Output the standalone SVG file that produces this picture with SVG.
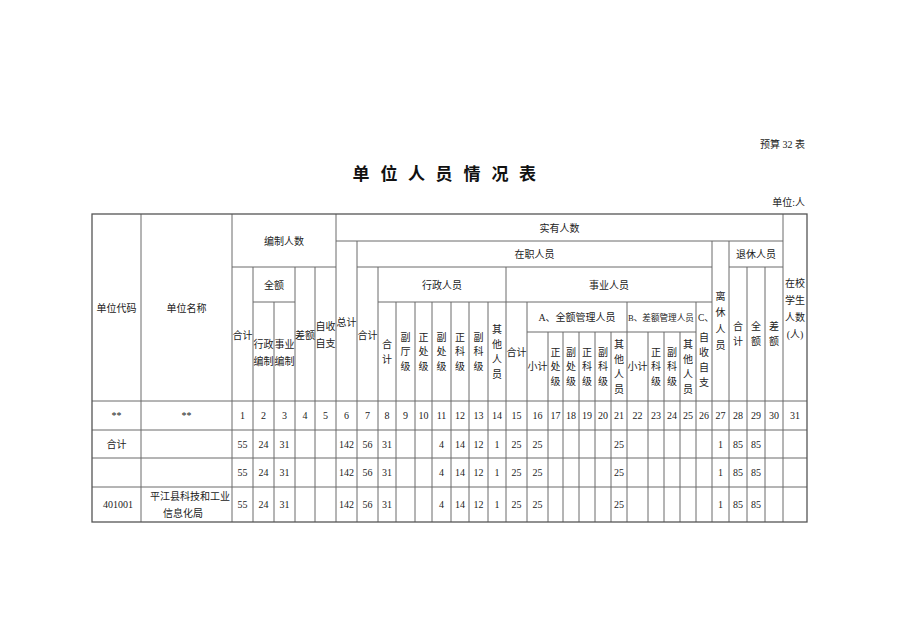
<svg xmlns="http://www.w3.org/2000/svg" width="898" height="635" viewBox="0 0 898 635">
<style>
text{font-family:"Liberation Serif","Noto Sans CJK SC",serif;font-size:10px;fill:#222;text-anchor:middle;dominant-baseline:central}
.r{text-anchor:end}
.s{text-anchor:start}
.title{font-family:"Noto Sans CJK SC",sans-serif;font-size:17px;font-weight:bold;fill:#111}
#grid line{stroke:#6a6a6a;stroke-width:1}
#border{fill:none;stroke:#555;stroke-width:1.3}
</style>
<rect width="898" height="635" fill="#fff"/>

<g id="caption">
<text class="r" x="805" y="144.5">预算 32 表</text>
<text class="title" x="361 375 389 403 416.5 430 444 458 472 486 500 514 527.5" y="172.5">单 位 人 员 情 况 表</text>
<text class="r" x="805" y="202.5">单位:人</text>
</g>

<g id="grid">
<line x1="336" y1="241" x2="783" y2="241"/>
<line x1="232" y1="267" x2="336" y2="267"/>
<line x1="357" y1="267" x2="712" y2="267"/>
<line x1="729" y1="267" x2="783" y2="267"/>
<line x1="253" y1="302" x2="295" y2="302"/>
<line x1="378" y1="302" x2="712" y2="302"/>
<line x1="527" y1="332" x2="696" y2="332"/>
<line x1="92" y1="401" x2="807" y2="401"/>
<line x1="92" y1="430" x2="807" y2="430"/>
<line x1="92" y1="458" x2="807" y2="458"/>
<line x1="92" y1="487" x2="807" y2="487"/>
<line x1="141" y1="214" x2="141" y2="522"/>
<line x1="232" y1="214" x2="232" y2="522"/>
<line x1="253" y1="267" x2="253" y2="522"/>
<line x1="274" y1="302" x2="274" y2="522"/>
<line x1="295" y1="267" x2="295" y2="522"/>
<line x1="315" y1="267" x2="315" y2="522"/>
<line x1="336" y1="214" x2="336" y2="522"/>
<line x1="357" y1="241" x2="357" y2="522"/>
<line x1="378" y1="267" x2="378" y2="522"/>
<line x1="396" y1="302" x2="396" y2="522"/>
<line x1="415" y1="302" x2="415" y2="522"/>
<line x1="432" y1="302" x2="432" y2="522"/>
<line x1="451" y1="302" x2="451" y2="522"/>
<line x1="469" y1="302" x2="469" y2="522"/>
<line x1="488" y1="302" x2="488" y2="522"/>
<line x1="506" y1="267" x2="506" y2="522"/>
<line x1="527" y1="302" x2="527" y2="522"/>
<line x1="548" y1="332" x2="548" y2="522"/>
<line x1="563" y1="332" x2="563" y2="522"/>
<line x1="579" y1="332" x2="579" y2="522"/>
<line x1="595" y1="332" x2="595" y2="522"/>
<line x1="611" y1="332" x2="611" y2="522"/>
<line x1="627" y1="302" x2="627" y2="522"/>
<line x1="648" y1="332" x2="648" y2="522"/>
<line x1="664" y1="332" x2="664" y2="522"/>
<line x1="680" y1="332" x2="680" y2="522"/>
<line x1="696" y1="302" x2="696" y2="522"/>
<line x1="712" y1="241" x2="712" y2="522"/>
<line x1="729" y1="241" x2="729" y2="522"/>
<line x1="747" y1="267" x2="747" y2="522"/>
<line x1="765" y1="267" x2="765" y2="522"/>
<line x1="783" y1="214" x2="783" y2="522"/>
<rect id="border" x="92" y="214" width="715" height="308"/>
</g>

<g id="header">
<text x="116.5" y="308">单位代码</text>
<text x="186.5" y="308">单位名称</text>
<text x="284" y="241">编制人数</text>
<text x="559.5" y="228">实有人数</text>
<text x="242.5" y="335">合计</text>
<text x="274" y="285">全额</text>
<text x="263.5" y="344">行政</text>
<text x="263.5" y="361">编制</text>
<text x="284.5" y="344">事业</text>
<text x="284.5" y="361">编制</text>
<text x="305" y="335">差额</text>
<text x="325.5" y="326.5">自收</text>
<text x="325.5" y="343.5">自支</text>
<text x="346.5" y="322">总计</text>
<text x="534.5" y="254">在职人员</text>
<text x="367.5" y="335">合计</text>
<text x="442" y="285">行政人员</text>
<text x="609" y="285">事业人员</text>
<text x="387 387" y="344 359">合计</text>
<text x="405.5 405.5 405.5" y="337 351.5 366">副厅级</text>
<text x="423.5 423.5 423.5" y="337 351.5 366">正处级</text>
<text x="441.5 441.5 441.5" y="337 351.5 366">副处级</text>
<text x="460 460 460" y="337 351.5 366">正科级</text>
<text x="478.5 478.5 478.5" y="337 351.5 366">副科级</text>
<text x="497 497 497 497" y="329.5 344.5 359.5 374.5">其他人员</text>
<text x="516.5" y="352">合计</text>
<text x="577" y="317.5">A、全额管理人员</text>
<text class="s" x="628" y="317.5" style="font-size:8.6px">B、差额管理人员</text>
<text class="s" x="698" y="317.5" style="font-size:9.5px">C、</text>
<text x="537.5" y="366.5">小计</text>
<text x="555.5 555.5 555.5" y="352 366.5 381">正处级</text>
<text x="571 571 571" y="352 366.5 381">副处级</text>
<text x="587 587 587" y="352 366.5 381">正科级</text>
<text x="603 603 603" y="352 366.5 381">副科级</text>
<text x="619 619 619 619" y="344 359 374 389">其他人员</text>
<text x="637.5" y="366.5">小计</text>
<text x="656 656 656" y="352 366.5 381">正科级</text>
<text x="672 672 672" y="352 366.5 381">副科级</text>
<text x="688 688 688 688" y="344 359 374 389">其他人员</text>
<text x="704 704 704 704" y="337 352 367 382">自收自支</text>
<text x="720.5 720.5 720.5 720.5" y="296 312.5 329 345.5">离休人员</text>
<text x="756" y="254">退休人员</text>
<text x="738 738" y="326.5 341.5">合计</text>
<text x="756 756" y="326.5 341.5">全额</text>
<text x="774 774" y="326.5 341.5">差额</text>
<text x="795" y="283">在校</text>
<text x="795" y="300">学生</text>
<text x="795" y="317">人数</text>
<text x="795" y="334">(人)</text>
</g>

<g id="row-index">
<text x="116.5" y="415.5">**</text>
<text x="186.5" y="415.5">**</text>
<text x="242.5" y="415.5">1</text>
<text x="263.5" y="415.5">2</text>
<text x="284.5" y="415.5">3</text>
<text x="305" y="415.5">4</text>
<text x="325.5" y="415.5">5</text>
<text x="346.5" y="415.5">6</text>
<text x="367.5" y="415.5">7</text>
<text x="387" y="415.5">8</text>
<text x="405.5" y="415.5">9</text>
<text x="423.5" y="415.5">10</text>
<text x="441.5" y="415.5">11</text>
<text x="460" y="415.5">12</text>
<text x="478.5" y="415.5">13</text>
<text x="497" y="415.5">14</text>
<text x="516.5" y="415.5">15</text>
<text x="537.5" y="415.5">16</text>
<text x="555.5" y="415.5">17</text>
<text x="571" y="415.5">18</text>
<text x="587" y="415.5">19</text>
<text x="603" y="415.5">20</text>
<text x="619" y="415.5">21</text>
<text x="637.5" y="415.5">22</text>
<text x="656" y="415.5">23</text>
<text x="672" y="415.5">24</text>
<text x="688" y="415.5">25</text>
<text x="704" y="415.5">26</text>
<text x="720.5" y="415.5">27</text>
<text x="738" y="415.5">28</text>
<text x="756" y="415.5">29</text>
<text x="774" y="415.5">30</text>
<text x="795" y="415.5">31</text>
</g>

<g id="row-total">
<text x="116.5" y="444">合计</text>
<text x="242.5" y="444">55</text>
<text x="263.5" y="444">24</text>
<text x="284.5" y="444">31</text>
<text x="346.5" y="444">142</text>
<text x="367.5" y="444">56</text>
<text x="387" y="444">31</text>
<text x="441.5" y="444">4</text>
<text x="460" y="444">14</text>
<text x="478.5" y="444">12</text>
<text x="497" y="444">1</text>
<text x="516.5" y="444">25</text>
<text x="537.5" y="444">25</text>
<text x="619" y="444">25</text>
<text x="720.5" y="444">1</text>
<text x="738" y="444">85</text>
<text x="756" y="444">85</text>
</g>

<g id="row-blank">
<text x="242.5" y="472.5">55</text>
<text x="263.5" y="472.5">24</text>
<text x="284.5" y="472.5">31</text>
<text x="346.5" y="472.5">142</text>
<text x="367.5" y="472.5">56</text>
<text x="387" y="472.5">31</text>
<text x="441.5" y="472.5">4</text>
<text x="460" y="472.5">14</text>
<text x="478.5" y="472.5">12</text>
<text x="497" y="472.5">1</text>
<text x="516.5" y="472.5">25</text>
<text x="537.5" y="472.5">25</text>
<text x="619" y="472.5">25</text>
<text x="720.5" y="472.5">1</text>
<text x="738" y="472.5">85</text>
<text x="756" y="472.5">85</text>
</g>

<g id="row-401001">
<text x="118" y="504.5">401001</text>
<text x="190" y="496.5">平江县科技和工业</text>
<text x="183" y="513">信息化局</text>
<text x="242.5" y="504.5">55</text>
<text x="263.5" y="504.5">24</text>
<text x="284.5" y="504.5">31</text>
<text x="346.5" y="504.5">142</text>
<text x="367.5" y="504.5">56</text>
<text x="387" y="504.5">31</text>
<text x="441.5" y="504.5">4</text>
<text x="460" y="504.5">14</text>
<text x="478.5" y="504.5">12</text>
<text x="497" y="504.5">1</text>
<text x="516.5" y="504.5">25</text>
<text x="537.5" y="504.5">25</text>
<text x="619" y="504.5">25</text>
<text x="720.5" y="504.5">1</text>
<text x="738" y="504.5">85</text>
<text x="756" y="504.5">85</text>
</g>
</svg>
